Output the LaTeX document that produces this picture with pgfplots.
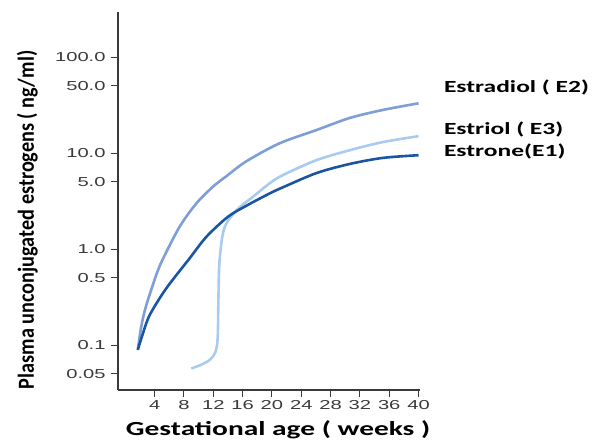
\documentclass[border=0pt]{standalone}
\usepackage{fontspec}
\setmainfont{Liberation Sans}
\newfontfamily\calib{Carlito}
\usepackage{pgfplots}
\pgfplotsset{compat=1.18}
\definecolor{estradiol}{HTML}{7E9ED8}
\definecolor{estriol}{HTML}{A9CBEE}
\definecolor{estrone}{HTML}{1A55A3}
\definecolor{axisgrey}{HTML}{3A3A3A}

\begin{document}
\begin{tikzpicture}[x=1pt,y=1pt]
\path (0,0) rectangle (600,442);
\begin{axis}[
  at={(118pt,52pt)}, anchor=south west,
  scale only axis, width=302pt, height=378pt,
  ymode=log,
  xmin=-1, xmax=40.2,
  ymin=0.034, ymax=295,
  axis lines*=left,
  axis line style={axisgrey, line width=1.6pt},
  tick style={axisgrey, line width=1pt},
  tick align=outside,
  major tick length=7pt,
  minor tick num=0,
  xtick={4,8,...,40},
  ytick={0.05,0.1,0.5,1,5,10,50,100},
  yticklabels={0.05,0.1,0.5,1.0,5.0,10.0,50.0,100.0},
  log ticks with fixed point,
  yminorticks=false,
  ticklabel style={font=\fontsize{13}{15}\selectfont, text=axisgrey, xscale=1.55},
  /pgf/number format/assume math mode=true,
  xlabel={\calib\bfseries Gestational age ( weeks )},
  xlabel style={font=\fontsize{20}{22}\selectfont, xscale=1.47, at={(axis description cs:0.53,-0.106)}, anchor=center},
  ylabel={\calib\bfseries Plasma unconjugated estrogens ( ng/ml)},
  ylabel style={font=\fontsize{23}{25}\selectfont, xscale=0.88, at={(axis description cs:-0.30,0.45)}, anchor=center},
  clip=false,
  every axis plot/.append style={line width=2.6pt, smooth, tension=0.5},
]
\addplot[estradiol] coordinates {
  (1.7,0.089) (2.2,0.16) (2.86,0.26) (4.23,0.54) (5.13,0.79) (7.41,1.71)
  (9.69,2.99) (11.95,4.46) (13.8,5.75) (16.5,8.2) (21,12.6) (26.1,17.4)
  (30.6,23.2) (35.1,28.1) (40,33)};
\addplot[estriol] coordinates {
  (9.0,0.057) (10.5,0.063) (11.6,0.071) (12.3,0.085) (12.6,0.12) (12.7,0.3)
  (12.85,0.75) (13.5,1.65) (15.2,2.55) (17.4,3.5) (19.7,4.85) (21.5,5.9)
  (26.1,8.45) (30.6,10.7) (35.1,13.0) (40,15.0)};
\addplot[estrone] coordinates {
  (1.7,0.089) (2.3,0.125) (3.32,0.205) (5.59,0.39) (8.77,0.80) (11.05,1.34) (14.0,2.17)
  (16.6,2.85) (19.7,3.8) (21.5,4.4) (26.1,6.2) (30.6,7.7) (35.1,8.9) (40,9.5)};
\node[anchor=west, font=\calib\bfseries\fontsize{17}{19}\selectfont, xscale=1.5]
  at (axis description cs:1.062,0.8016) {Estradiol ( E2)};
\node[anchor=west, font=\calib\bfseries\fontsize{17}{19}\selectfont, xscale=1.5]
  at (axis description cs:1.062,0.688) {Estriol ( E3)};
\node[anchor=west, font=\calib\bfseries\fontsize{17}{19}\selectfont, xscale=1.5]
  at (axis description cs:1.062,0.63) {Estrone(E1)};
\end{axis}
\end{tikzpicture}
\end{document}
